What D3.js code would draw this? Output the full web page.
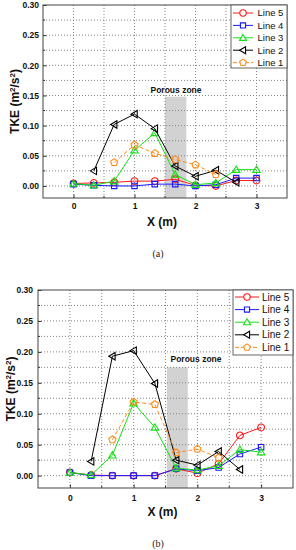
<!DOCTYPE html>
<html>
<head>
<meta charset="utf-8">
<script src="https://cdn.jsdelivr.net/npm/d3@7"></script>
<style>
  html, body { margin: 0; padding: 0; background: #fff; }
  svg { display: block; }
</style>
</head>
<body>
<svg id="chart" width="296" height="550"></svg>
<script>
// ---------- DATA ----------
const xPositions = [0, 0.333, 0.667, 1, 1.333, 1.667, 2, 2.333, 2.667, 3];
const seriesNames = ["Line 5", "Line 4", "Line 3", "Line 2", "Line 1"];
const xTicks = [0, 1, 2, 3];
const yTicks = [0.00, 0.05, 0.10, 0.15, 0.20, 0.25, 0.30];
const yTickLabels = ["0.00", "0.05", "0.10", "0.15", "0.20", "0.25", "0.30"];

// Panel (a)
const aLine5 = [0.004, 0.005, 0.006, 0.008, 0.008, 0.011, 0.001, 0.000, 0.009, 0.009];
const aLine4 = [0.003, 0.001, 0.000, 0.000, 0.003, 0.003, 0.000, 0.002, 0.013, 0.013];
const aLine3 = [0.004, 0.001, 0.008, 0.059, 0.088, 0.019, 0.002, 0.005, 0.027, 0.027];
const aLine2 = [null, 0.025, 0.102, 0.119, 0.095, 0.033, 0.016, 0.026, 0.006, null];
const aLine1 = [null, null, 0.039, 0.068, 0.054, 0.044, 0.035, 0.019, null, null];
const aPorous = [1.5, 1.85, 0.148];

// Panel (b)
const bLine5 = [0.005, 0.001, 0.000, 0.000, 0.000, 0.011, 0.004, 0.019, 0.065, 0.078];
const bLine4 = [0.005, 0.000, 0.000, 0.000, 0.000, 0.011, 0.008, 0.013, 0.035, 0.046];
const bLine3 = [0.005, 0.001, 0.033, 0.117, 0.078, 0.012, 0.009, 0.016, 0.042, 0.038];
const bLine2 = [null, 0.023, 0.193, 0.202, 0.149, 0.025, 0.017, 0.039, 0.010, null];
const bLine1 = [null, null, 0.058, 0.119, 0.115, 0.037, 0.043, 0.029, null, null];
const bPorous = [1.52, 1.85, 0.175];

const porousLabel = "Porous zone";
const xTitle = "X (m)";
const panelLabels = ["(a)", "(b)"];

// ---------- STYLE ----------
const styles = [
  { color: "#ff1a1a", marker: "circle", dash: null },
  { color: "#1a1aff", marker: "square", dash: null },
  { color: "#14e014", marker: "triUp", dash: null },
  { color: "#000000", marker: "triLeft", dash: null },
  { color: "#ff8c1a", marker: "pentagon", dash: "4,2.5" }
];

function markerPath(type, s) {
  if (type === "circle") {
    return d3.symbol().type(d3.symbolCircle).size(Math.PI * s * s)();
  }
  if (type === "square") {
    return `M${-s*0.8},${-s*0.8}H${s*0.8}V${s*0.8}H${-s*0.8}Z`;
  }
  if (type === "triUp") {
    return `M0,${-s*1.05}L${s*1.1},${s*0.8}L${-s*1.1},${s*0.8}Z`;
  }
  if (type === "triLeft") {
    return `M${-s*1.05},0L${s*0.8},${-s*1.1}L${s*0.8},${s*1.1}Z`;
  }
  if (type === "pentagon") {
    const pts = [];
    for (let i = 0; i < 5; i++) {
      const a = -Math.PI / 2 + i * 2 * Math.PI / 5;
      pts.push([Math.cos(a) * s * 1.1, Math.sin(a) * s * 1.1]);
    }
    return "M" + pts.map(p => p.join(",")).join("L") + "Z";
  }
}

const svg = d3.select("#chart");

function drawPanel(cfg) {
  const { left, right, top, bottom, data, porous, label, labelY, xTitleY,
          yTitleX, legendBox, porousTextX, porousTextY } = cfg;
  const x = d3.scaleLinear().domain([-0.5, 3.5]).range([left, right]);
  const y = d3.scaleLinear().domain([-0.02, 0.30]).range([bottom, top]);
  const g = svg.append("g");

  // porous zone
  g.append("rect")
    .attr("x", x(porous[0])).attr("width", x(porous[1]) - x(porous[0]))
    .attr("y", y(porous[2])).attr("height", y(-0.02) - y(porous[2]))
    .attr("fill", "#d2d2d2");

  // gridlines
  const gx = d3.range(-0.5, 3.51, 0.5).filter(v => v > -0.5 && v < 3.5);
  const gy = d3.range(0, 0.301, 0.025).filter(v => v < 0.299);
  g.append("g").selectAll("line").data(gx).join("line")
    .attr("x1", d => x(d)).attr("x2", d => x(d))
    .attr("y1", top).attr("y2", bottom)
    .attr("stroke", "#858585").attr("stroke-width", 1)
    .attr("stroke-dasharray", "1,2");
  g.append("g").selectAll("line").data(gy).join("line")
    .attr("x1", left).attr("x2", right)
    .attr("y1", d => y(d)).attr("y2", d => y(d))
    .attr("stroke", "#858585").attr("stroke-width", 1)
    .attr("stroke-dasharray", "1,2");

  // porous label
  g.append("text").attr("x", porousTextX).attr("y", porousTextY)
    .attr("text-anchor", "middle")
    .attr("font-family", "Liberation Sans, Arial, sans-serif")
    .attr("font-weight", "bold").attr("font-size", 8.5)
    .attr("fill", "#111").text(porousLabel);

  // axes
  const xAxis = d3.axisBottom(x).tickValues(xTicks).tickSize(-3.5)
    .tickPadding(cfg.xPad).tickFormat(d3.format("d"));
  const gxA = g.append("g").attr("transform", `translate(0,${bottom})`).call(xAxis);
  const yAxis = d3.axisLeft(y).tickValues(yTicks).tickSize(-3.5)
    .tickPadding(cfg.yPad).tickFormat((d, i) => yTickLabels[i]);
  const gyA = g.append("g").attr("transform", `translate(${left},0)`).call(yAxis);
  [gxA, gyA].forEach(a => {
    a.select(".domain").remove();
    a.selectAll("line").attr("stroke", "#333");
    a.selectAll("text").attr("font-family", "Liberation Sans, Arial, sans-serif")
      .attr("font-weight", "bold").attr("font-size", 8.5).attr("fill", "#111");
  });
  // minor ticks
  g.append("g").selectAll("line").data([0.5, 1.5, 2.5]).join("line")
    .attr("x1", d => x(d)).attr("x2", d => x(d))
    .attr("y1", bottom).attr("y2", bottom - 2).attr("stroke", "#333");
  g.append("g").selectAll("line").data([0.025, 0.075, 0.125, 0.175, 0.225, 0.275]).join("line")
    .attr("x1", left).attr("x2", left + 2)
    .attr("y1", d => y(d)).attr("y2", d => y(d)).attr("stroke", "#333");

  // series
  data.forEach((vals, si) => {
    const st = styles[si];
    const pts = xPositions.map((xv, i) => [xv, vals[i]]).filter(p => p[1] !== null);
    const line = d3.line().x(p => x(p[0])).y(p => y(p[1]));
    g.append("path").datum(pts).attr("d", line)
      .attr("fill", "none").attr("stroke", st.color).attr("stroke-width", 1)
      .attr("stroke-dasharray", st.dash);
    g.append("g").selectAll("path").data(pts).join("path")
      .attr("transform", p => `translate(${x(p[0])},${y(p[1])})`)
      .attr("d", markerPath(st.marker, 3.4))
      .attr("fill", "none").attr("stroke", st.color).attr("stroke-width", 1.1);
  });

  // frame
  g.append("rect").attr("x", left).attr("y", top)
    .attr("width", right - left).attr("height", bottom - top)
    .attr("fill", "none").attr("stroke", "#444").attr("stroke-width", 1);

  // legend
  const lb = legendBox;
  const lg = g.append("g");
  lg.append("rect").attr("x", lb.x).attr("y", lb.y).attr("width", lb.w).attr("height", lb.h)
    .attr("fill", "#fff").attr("stroke", "#555").attr("stroke-width", 0.9);
  seriesNames.forEach((name, i) => {
    const st = styles[i];
    const cy = lb.y + lb.first + i * lb.step;
    lg.append("line").attr("x1", lb.x + 2).attr("x2", lb.x + 2 + lb.lineW)
      .attr("y1", cy).attr("y2", cy).attr("stroke", st.color).attr("stroke-width", 1)
      .attr("stroke-dasharray", st.dash ? "4,2" : null);
    lg.append("path").attr("transform", `translate(${lb.x + 2 + lb.lineW / 2},${cy})`)
      .attr("d", markerPath(st.marker, 3.2))
      .attr("fill", "#fff").attr("stroke", st.color).attr("stroke-width", 1.1);
    lg.append("text").attr("x", lb.x + lb.textX).attr("y", cy).attr("dy", "0.35em")
      .attr("font-family", "Liberation Sans, Arial, sans-serif")
      .attr("font-size", lb.fs).attr("fill", "#111").text(name);
  });

  // titles
  g.append("text")
    .attr("transform", `translate(${yTitleX},${(top + bottom) / 2}) rotate(-90)`)
    .attr("text-anchor", "middle").attr("dy", "0.35em")
    .attr("font-family", "Liberation Sans, Arial, sans-serif")
    .attr("font-weight", "bold").attr("font-size", 12).attr("fill", "#111")
    .html('TKE (m<tspan baseline-shift="super" font-size="8">2</tspan>/s<tspan baseline-shift="super" font-size="8">2</tspan>)');
  g.append("text").attr("x", (left + right) / 2 - 3).attr("y", xTitleY)
    .attr("text-anchor", "middle").attr("dy", "0.35em")
    .attr("font-family", "Liberation Sans, Arial, sans-serif")
    .attr("font-weight", "bold").attr("font-size", 12).attr("fill", "#111")
    .text(xTitle);
  g.append("text").attr("x", 158).attr("y", labelY)
    .attr("text-anchor", "middle").attr("dy", "0.35em")
    .attr("font-family", "Liberation Serif, Times New Roman, serif")
    .attr("font-size", 10).attr("fill", "#222").text(label);
}

drawPanel({
  left: 43, right: 287, top: 5, bottom: 198,
  data: [aLine5, aLine4, aLine3, aLine2, aLine1],
  porous: aPorous, label: panelLabels[0], labelY: 253, xTitleY: 222,
  yTitleX: 15, xPad: 5, yPad: 4,
  porousTextX: 176, porousTextY: 93,
  legendBox: { x: 231, y: 5, w: 56, h: 63, first: 8, step: 12.4, lineW: 20, textX: 26.5, fs: 9.5 }
});

drawPanel({
  left: 38, right: 293, top: 290, bottom: 488,
  data: [bLine5, bLine4, bLine3, bLine2, bLine1],
  porous: bPorous, label: panelLabels[1], labelY: 543, xTitleY: 512,
  yTitleX: 11, xPad: 7, yPad: 5,
  porousTextX: 196, porousTextY: 362,
  legendBox: { x: 233, y: 290, w: 60, h: 65, first: 7, step: 12.6, lineW: 24, textX: 29, fs: 10 }
});
</script>
</body>
</html>
